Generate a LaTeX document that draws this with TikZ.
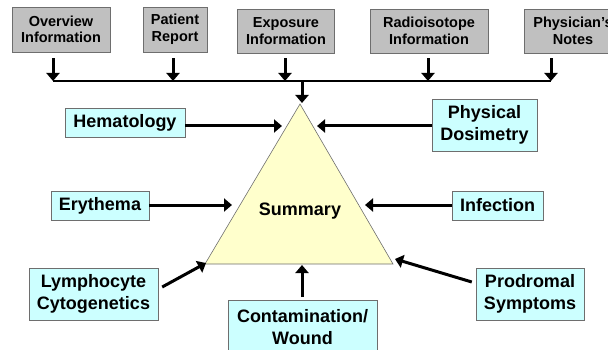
\documentclass[tikz,border=0pt]{standalone}
\usepackage{fontspec}
\setmainfont{Liberation Sans}
\usepackage{xcolor}
\usepackage{tikz}
\usetikzlibrary{positioning,calc,arrows.meta}

\definecolor{boxgray}{RGB}{192,192,192}
\definecolor{boxcyan}{RGB}{204,255,255}
\definecolor{triyellow}{RGB}{255,255,204}
\definecolor{edgegray}{RGB}{110,110,110}

\begin{document}
\begin{tikzpicture}[x=1pt,y=-1pt,
  srcbox/.style={draw=edgegray, fill=boxgray, align=center, font=\fontsize{14.5}{16.5}\selectfont\bfseries, inner sep=0pt},
  factbox/.style={draw=edgegray, fill=boxcyan, align=center, font=\fontsize{18}{22.5}\selectfont\bfseries, inner sep=0pt},
  arr/.style={-{Triangle[width=13pt,length=8pt]}, line width=3pt},
  bus/.style={line width=2.6pt}]
\useasboundingbox (0,0) rectangle (608,350);
\clip (0,0) rectangle (608,350);

% source boxes along the top
\node[srcbox, minimum width=98pt, minimum height=45pt] (ovr) at (61,29.5) {Overview\\Information};
\node[srcbox, minimum width=64pt, minimum height=45pt] (pat) at (175,29.5) {Patient\\Report};
\node[srcbox, minimum width=97pt, minimum height=44pt] (exp) at (286,31) {Exposure\\Information};
\node[srcbox, minimum width=118pt, minimum height=44pt] (rad) at (429,31) {Radioisotope\\Information};
\node[srcbox, minimum width=98pt, minimum height=44pt] (phy) at (573,31) {Physician's\\Notes};

% bus
\coordinate (b1) at (53,81);
\coordinate (b2) at (173,81);
\coordinate (b3) at (285,81);
\coordinate (b4) at (428,81);
\coordinate (b5) at (551,81);
\draw[bus] (b1) -- (b5);
\draw[arr] ([yshift=-6pt]ovr.south -| b1) -- (b1);
\draw[arr] ([yshift=-6pt]pat.south -| b2) -- (b2);
\draw[arr] ([yshift=-5pt]exp.south -| b3) -- (b3);
\draw[arr] ([yshift=-5pt]rad.south -| b4) -- (b4);
\draw[arr] ([yshift=-5pt]phy.south -| b5) -- (b5);

% summary triangle
\coordinate (top) at (300,104);
\coordinate (bl) at (205,264);
\coordinate (br) at (393,264);
\draw[edgegray, fill=triyellow, line width=0.6pt] (top) -- (br) -- (bl) -- cycle;
\node[font=\fontsize{18}{22}\selectfont\bfseries] (sum) at (300,211) {Summary};
\coordinate (bus) at (302,81);
\draw[arr] (bus) -- (302,103);

% contributing findings
\node[factbox, minimum width=120pt, minimum height=29pt] (hem) at (125,122.5) {Hematology};
\node[factbox, minimum width=98pt, minimum height=29pt] (ery) at (100,205.5) {Erythema};
\node[factbox, minimum width=129pt, minimum height=52pt] (lym) at (93.5,294) {Lymphocyte\\Cytogenetics};
\node[factbox, minimum width=149pt, minimum height=54pt, anchor=north] (con) at (302.5,300) {Contamination/\\Wound};
\node[factbox, minimum width=105pt, minimum height=52pt] (pds) at (484.5,125) {Physical\\Dosimetry};
\node[factbox, minimum width=91pt, minimum height=29pt] (inf) at (497.5,205.5) {Infection};
\node[factbox, minimum width=108pt, minimum height=52pt] (pro) at (530,294) {Prodromal\\Symptoms};

\coordinate (hemIn) at (282,126);
\coordinate (eryIn) at (232,205);
\coordinate (lymIn) at (206,263);
\coordinate (conIn) at (302,265);
\coordinate (pdsIn) at (317,126);
\coordinate (infIn) at (365,205);
\coordinate (proIn) at (395,259);

\draw[arr] (hem.east |- hemIn) -- (hemIn);
\draw[arr] (ery.east |- eryIn) -- (eryIn);
\draw[arr] ([xshift=4pt,yshift=7pt]lym.east) -- (lymIn);
\draw[arr] ([yshift=3pt]con.north -| conIn) -- (conIn);
\draw[arr] (pds.west |- pdsIn) -- (pdsIn);
\draw[arr] (inf.west |- infIn) -- (infIn);
\draw[arr] ([xshift=-4pt,yshift=12pt]pro.west) -- (proIn);
\end{tikzpicture}
\end{document}
